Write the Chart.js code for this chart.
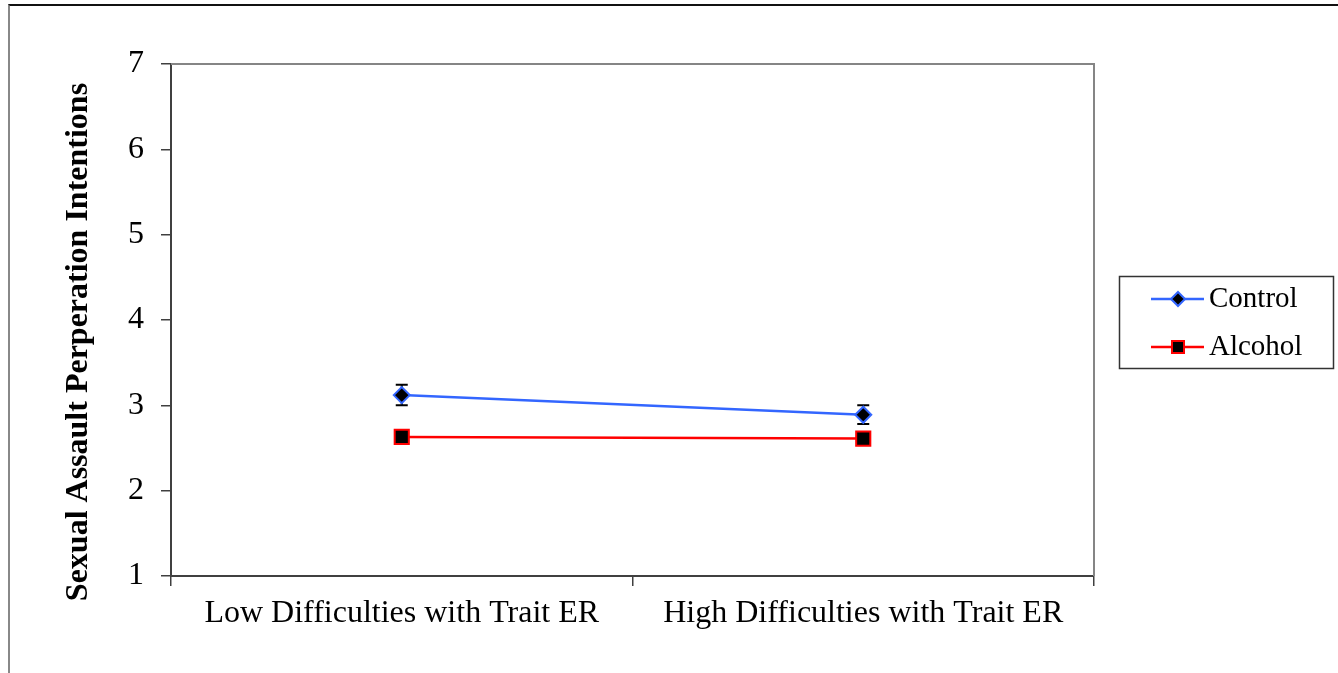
<!DOCTYPE html>
<html>
<head>
<meta charset="utf-8">
<script src="https://cdn.jsdelivr.net/npm/chart.js@4.4.1/dist/chart.umd.min.js"></script>
<style>
  html, body { margin: 0; padding: 0; background: #fff; overflow: hidden; }
  #wrap { position: relative; width: 1338px; height: 673px; }
  #frame { position: absolute; left: 8px; top: 4px; width: 1340px; height: 700px;
           border-top: 2px solid #111; border-left: 2px solid #888; }
  #c { position: absolute; left: 0; top: 0; }
</style>
</head>
<body>
<div id="wrap">
  <div id="frame"></div>
  <canvas id="c" width="1338" height="673"></canvas>
</div>
<script>
// data
const categories = ['Low Difficulties with Trait ER', 'High Difficulties with Trait ER'];
const seriesNames = ['Control', 'Alcohol'];
const controlMeans = [3.12, 2.89];
const controlErr = [0.12, 0.11];
const alcoholMeans = [2.63, 2.61];
const alcoholErr = [0.04, 0.04];
const yMin = 1, yMax = 7, yStep = 1;
const yTitle = 'Sexual Assault Perperation Intentions';

const SERIF = '"Liberation Serif", "Times New Roman", serif';
const BLUE = '#3366ff';
const RED = '#ff0000';

// gray frame on top and right of the plot area
const plotFrame = {
  id: 'plotFrame',
  beforeDatasetsDraw(chart) {
    const { ctx, chartArea: a } = chart;
    ctx.save();
    ctx.strokeStyle = '#858585';
    ctx.lineWidth = 2;
    ctx.beginPath();
    ctx.moveTo(a.left, a.top);
    ctx.lineTo(a.right, a.top);
    ctx.lineTo(a.right, a.bottom);
    ctx.stroke();
    ctx.restore();
  }
};

// error bars from dataset.errors
const errorBars = {
  id: 'errorBars',
  beforeDatasetsDraw(chart) {
    const { ctx } = chart;
    const y = chart.scales.y;
    ctx.save();
    ctx.strokeStyle = '#000';
    ctx.lineWidth = 2;
    chart.data.datasets.forEach((ds, i) => {
      const meta = chart.getDatasetMeta(i);
      meta.data.forEach((pt, j) => {
        const e = ds.errors[j];
        const top = y.getPixelForValue(ds.data[j] + e);
        const bot = y.getPixelForValue(ds.data[j] - e);
        ctx.beginPath();
        ctx.moveTo(pt.x, top); ctx.lineTo(pt.x, bot);
        ctx.moveTo(pt.x - 6, top); ctx.lineTo(pt.x + 6, top);
        ctx.moveTo(pt.x - 6, bot); ctx.lineTo(pt.x + 6, bot);
        ctx.stroke();
      });
    });
    ctx.restore();
  }
};

// rotated bold y title, sits a bit lower than the plot centre
const yTitleText = {
  id: 'yTitleText',
  afterDraw(chart) {
    const { ctx } = chart;
    ctx.save();
    ctx.translate(87, 342);
    ctx.rotate(-Math.PI / 2);
    ctx.font = 'bold 32px ' + SERIF;
    ctx.fillStyle = '#000';
    ctx.textAlign = 'center';
    ctx.textBaseline = 'alphabetic';
    ctx.fillText(yTitle, 0, 0);
    ctx.restore();
  }
};

// boxed legend on the right
const boxLegend = {
  id: 'boxLegend',
  afterDraw(chart) {
    const { ctx } = chart;
    ctx.save();
    ctx.strokeStyle = '#333';
    ctx.lineWidth = 1.5;
    ctx.strokeRect(1119.5, 276.5, 214, 92);
    chart.data.datasets.forEach((ds, i) => {
      const cy = 299 + i * 48;
      ctx.strokeStyle = ds.borderColor;
      ctx.lineWidth = 2.5;
      ctx.beginPath();
      ctx.moveTo(1151, cy); ctx.lineTo(1204, cy);
      ctx.stroke();
      ctx.fillStyle = '#000';
      ctx.lineWidth = 2;
      ctx.beginPath();
      if (ds.pointStyle === 'rectRot') {
        ctx.moveTo(1178, cy - 7); ctx.lineTo(1185, cy);
        ctx.lineTo(1178, cy + 7); ctx.lineTo(1171, cy);
        ctx.closePath();
      } else {
        ctx.rect(1172, cy - 6, 12, 12);
      }
      ctx.fill(); ctx.stroke();
      ctx.fillStyle = '#000';
      ctx.font = '29px ' + SERIF;
      ctx.textBaseline = 'alphabetic';
      ctx.fillText(ds.label, 1209, cy + 8);
    });
    ctx.restore();
  }
};

new Chart(document.getElementById('c'), {
  type: 'line',
  data: {
    labels: categories,
    datasets: [
      {
        label: seriesNames[0], data: controlMeans, errors: controlErr,
        borderColor: BLUE, borderWidth: 2.5, backgroundColor: '#000',
        pointStyle: 'rectRot', pointRadius: 8, pointBorderColor: BLUE,
        pointBackgroundColor: '#000', pointBorderWidth: 2, tension: 0
      },
      {
        label: seriesNames[1], data: alcoholMeans, errors: alcoholErr,
        borderColor: RED, borderWidth: 2.5, backgroundColor: '#000',
        pointStyle: 'rect', pointRadius: 10, pointBorderColor: RED,
        pointBackgroundColor: '#000', pointBorderWidth: 2, tension: 0
      }
    ]
  },
  options: {
    responsive: false,
    animation: false,
    devicePixelRatio: 1,
    layout: { padding: { top: 64, right: 244, left: 0, bottom: 0 } },
    plugins: { legend: { display: false }, tooltip: { enabled: false } },
    scales: {
      x: {
        offset: true,
        afterFit(scale) { scale.height = 97; },
        grid: { offset: true, drawOnChartArea: false, tickLength: 10, color: '#404040', lineWidth: 1.5 },
        border: { display: true, color: '#404040', width: 2 },
        ticks: { color: '#000', padding: 8, font: { family: SERIF, size: 32 }, maxRotation: 0 }
      },
      y: {
        min: yMin, max: yMax,
        afterFit(scale) { scale.width = 171; },
        grid: { drawOnChartArea: false, tickLength: 10, color: '#404040', lineWidth: 1.5 },
        border: { display: true, color: '#404040', width: 2 },
        ticks: { stepSize: yStep, color: '#000', padding: 17, font: { family: SERIF, size: 32 } }
      }
    }
  },
  plugins: [plotFrame, errorBars, yTitleText, boxLegend]
});
</script>
</body>
</html>
